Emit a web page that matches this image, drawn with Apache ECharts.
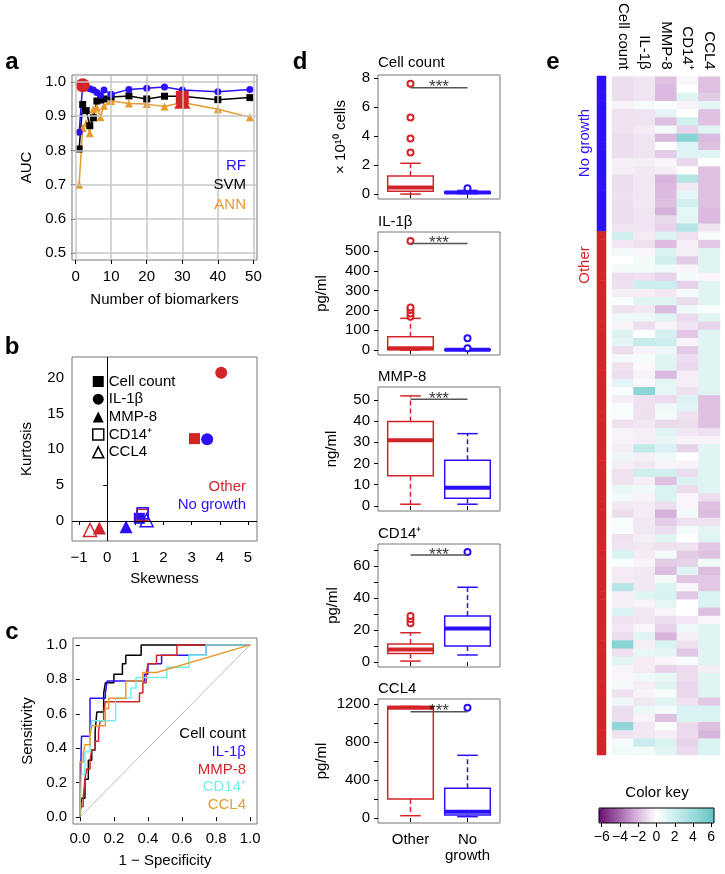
<!DOCTYPE html>
<html><head><meta charset="utf-8">
<script src="https://cdn.jsdelivr.net/npm/echarts@6/dist/echarts.min.js"></script>
<style>html,body{margin:0;padding:0;background:#fff}#c{width:725px;height:874px}</style>
</head><body><div id="c"></div>
<script>
// ---------- DATA ----------
// panel a
const biomarkerCounts = [1,2,3,4,5,6,7,8,10,15,20,25,30,40,49];
const aucRF  = [0.853,0.99,0.983,0.98,0.976,0.969,0.961,0.976,0.964,0.978,0.981,0.985,0.976,0.971,0.978];
const aucSVM = [0.804,0.934,0.916,0.872,0.895,0.944,0.947,0.95,0.956,0.959,0.95,0.958,0.958,0.948,0.954];
const aucANN = [0.70,0.865,0.879,0.85,0.92,0.925,0.897,0.93,0.944,0.937,0.935,0.928,0.94,0.92,0.897];
const bestRF = [2, 0.99], bestSVM = [30, 0.955], bestANN = [30, 0.945];
const aXTicks = [0,10,20,30,40,50];
const aYTicks = [0.5,0.6,0.7,0.8,0.9,1.0];
// panel b (order: Cell count, IL-1β, MMP-8, CD14+, CCL4)
const bMarkers = ['Cell count','IL-1β','MMP-8','CD14⁺','CCL4'];
const skewOther = [3.1, 4.05, -0.28, 1.25, -0.61];
const kurtOther = [11.5, 20.7, -1.0, 0.85, -1.26];
const skewNG = [1.14, 3.55, 0.67, 1.26, 1.4];
const kurtNG = [0.37, 11.4, -0.8, 1.07, 0.1];
const bXTicks = [-1,0,1,2,3,4,5];
const bYTicks = [0,5,10,15,20];
// panel c ROC curves [1-specificity, sensitivity]
const rocCellCount = [[0,0],[0.01,0],[0.01,0.11],[0.03,0.11],[0.03,0.22],[0.05,0.22],[0.05,0.33],[0.07,0.33],[0.07,0.39],[0.09,0.39],[0.09,0.5],[0.1,0.5],[0.1,0.61],[0.14,0.61],[0.14,0.72],[0.15,0.72],[0.15,0.78],[0.2,0.78],[0.2,0.83],[0.25,0.83],[0.25,0.89],[0.27,0.89],[0.27,0.94],[0.36,0.94],[0.36,1],[1,1]];
const rocIL1b = [[0,0],[0,0.06],[0.01,0.06],[0.01,0.47],[0.06,0.47],[0.06,0.69],[0.15,0.69],[0.15,0.72],[0.16,0.72],[0.16,0.79],[0.28,0.79],[0.38,0.79],[0.38,0.83],[0.4,0.83],[0.4,0.89],[0.48,0.89],[0.48,0.94],[0.74,0.94],[0.74,1],[1,1]];
const rocMMP8 = [[0,0],[0,0.06],[0.02,0.06],[0.02,0.11],[0.03,0.11],[0.03,0.22],[0.04,0.22],[0.04,0.28],[0.06,0.28],[0.06,0.33],[0.07,0.33],[0.07,0.39],[0.09,0.39],[0.09,0.44],[0.11,0.44],[0.11,0.5],[0.12,0.5],[0.12,0.56],[0.14,0.56],[0.14,0.61],[0.15,0.61],[0.15,0.67],[0.35,0.67],[0.35,0.72],[0.37,0.72],[0.37,0.78],[0.39,0.78],[0.39,0.83],[0.4,0.83],[0.4,0.89],[0.45,0.89],[0.45,0.94],[0.57,0.94],[0.57,1],[1,1]];
const rocCD14 = [[0,0],[0.01,0],[0.01,0.25],[0.03,0.25],[0.03,0.38],[0.06,0.38],[0.06,0.47],[0.07,0.47],[0.07,0.56],[0.21,0.56],[0.21,0.69],[0.3,0.69],[0.3,0.75],[0.33,0.75],[0.33,0.81],[0.51,0.81],[0.51,0.87],[0.64,0.87],[0.64,0.94],[0.74,0.94],[0.74,1],[1,1]];
const rocCCL4 = [[0,0],[0,0.32],[0.02,0.32],[0.02,0.37],[0.03,0.37],[0.03,0.42],[0.06,0.42],[0.06,0.47],[0.07,0.47],[0.07,0.53],[0.15,0.53],[0.15,0.63],[0.17,0.63],[0.17,0.69],[0.27,0.69],[0.27,0.79],[0.37,0.79],[0.37,0.84],[0.45,0.84],[1,1]];
const cTicks = [0,0.2,0.4,0.6,0.8,1.0];
// panel d boxplots [min, Q1, median, Q3, max]
const dTitles = ['Cell count','IL-1β','MMP-8','CD14⁺','CCL4'];
const dUnits = ['× 10¹⁰ cells','pg/ml','ng/ml','pg/ml','pg/ml'];
const dGroups = ['Other','No\ngrowth'];
const dOtherBox = [[0,0.2,0.46,1.24,2.12],[0,1,8.5,67,160],[0.8,14.2,31,39.8,51.9],[0.6,5.4,7.9,11.2,18.3],[24,200,1160,1175,1175]];
const dNGBox = [[0.03,0.06,0.1,0.15,0.25],[0,0,1,2,5],[0.8,3.6,8.6,21.5,34.1],[4.4,10,21,28.7,46.7],[14,30,66,312,660]];
const dOtherOut = [[2.87,3.83,5.28,7.6],[168,185,202,215,550],[],[24.2,26.9,28.7],[]];
const dNGOut = [[0.4],[9,59],[],[68.7],[1161]];
const dSig = [7.33,538,50.3,66.9,1119];
const dYTicks = [[0,2,4,6,8],[0,100,200,300,400,500],[0,10,20,30,40,50],[0,10,20,30,40,50,60,70],[0,200,400,600,800,1000,1200]];
const dYLabels = [[0,2,4,6,8],[0,100,200,300,400,500],[0,10,20,30,40,50],[0,20,40,60],[0,400,800,1200]];
// panel e heatmap rows [Cell count, IL-1β, MMP-8, CD14+, CCL4]
const heatCols = ['Cell count','IL-1β','MMP-8','CD14⁺','CCL4'];
const heatNoGrowth = [
[-1.0,-0.8,-1.8,-0.3,-1.8],[-1.0,-0.8,-2.0,0.0,-1.8],[-1.0,-0.8,-2.0,1.2,-1.5],[-0.4,0.4,0.1,-0.4,1.0],
[-0.9,-0.8,1.0,0.0,-1.8],[-0.9,-0.8,-1.8,1.8,-1.8],[-0.9,-0.6,0.5,-1.3,1.2],[-1.0,-0.8,-2.0,4.8,-2.0],
[-1.0,-0.8,0.0,1.3,-1.8],[-1.0,-0.8,-1.5,1.3,1.2],[-0.5,-0.5,-0.3,-1.2,0.0],[-0.5,-0.7,-0.5,0.0,-1.8],
[-1.0,-0.7,-2.1,3.0,-1.8],[-1.0,-0.7,-2.0,-0.7,-1.8],[-0.9,-0.7,-1.9,1.0,-1.8],[-1.0,-0.7,-1.8,1.8,-1.8],
[-1.0,-0.8,-2.2,1.0,-2.0],[-1.0,-0.8,-1.2,1.0,-2.0],[-0.8,-0.8,-1.3,3.0,-0.8]];
const heatOther = [
[1.8,-0.6,1.3,-0.9,0.3],[-0.7,-0.9,-1.9,-0.5,-1.6],[0.5,-0.3,1.5,-0.5,1.2],[0.0,0.5,1.8,-1.5,1.2],
[0.5,0.5,0.6,-0.3,1.2],[-1.0,-0.9,-1.3,0.4,-0.3],[-0.9,2.0,2.0,-1.3,1.2],[-0.5,-0.5,-0.7,0.5,1.2],
[0.2,1.2,1.2,-1.0,1.2],[-0.9,-0.7,-2.0,0.6,0.3],[0.6,0.7,1.2,-1.1,1.2],[-0.4,-1.0,-0.4,-0.8,-1.3],
[1.4,0.0,1.7,-1.6,1.2],[1.0,2.3,2.0,-0.4,1.2],[-1.0,-0.4,0.7,-1.5,1.2],[0.4,0.4,1.2,-1.0,1.2],
[-0.9,-0.2,1.2,-1.1,1.2],[-1.0,-0.4,-2.0,-0.5,1.2],[1.0,-0.2,1.0,-0.5,1.2],[0.2,4.6,1.0,-0.9,1.2],
[-0.5,-0.9,-1.1,1.4,-1.8],[0.3,-0.9,0.7,1.2,-1.8],[0.2,-0.9,0.4,-0.9,-1.8],[-0.9,-0.7,-1.1,-1.0,-1.8],
[-0.4,-0.5,1.2,-0.7,-0.9],[-0.4,-0.5,0.9,-0.4,-0.4],[-0.5,2.5,1.4,-1.3,1.2],[0.7,-0.5,0.6,0.0,1.2],
[-0.5,-0.7,-0.4,-0.4,1.2],[-0.9,1.8,1.8,-1.0,1.2],[-0.9,-0.5,-1.8,1.5,1.2],[0.8,0.6,1.5,-1.0,1.2],
[0.5,-0.4,1.5,-0.3,-1.0],[-0.7,-0.6,-1.0,-0.3,-1.8],[-1.0,-0.6,-2.2,0.5,-1.9],[0.3,-0.7,-1.5,-0.9,-0.9],
[0.3,-0.7,-1.0,0.5,1.0],[-0.9,-0.5,1.2,0.0,1.2],[-0.8,-0.7,-0.9,-0.8,-1.6],[1.5,-0.6,0.5,-1.5,-1.8],
[0.2,-0.4,-1.5,-1.3,0.5],[-0.6,-0.7,-1.9,1.2,-1.9],[-0.6,-0.7,0.5,-1.6,-1.6],[3.0,-0.7,1.5,-0.3,-1.6],
[-0.5,1.2,1.5,-1.6,1.5],[-0.5,-0.4,1.0,0.0,1.5],[1.5,-0.7,-0.3,0.0,-1.8],[-0.9,-0.7,-1.0,-0.7,-0.3],
[-0.7,-0.3,-1.3,0.7,1.2],[-1.0,1.2,-2.1,-0.5,1.2],[4.8,-0.5,1.5,-0.9,1.2],[-0.9,0.8,1.0,-1.6,1.2],
[1.2,-0.6,-0.3,0.3,1.2],[-0.4,-0.6,-1.3,-1.0,-0.5],[-0.3,0.6,0.8,-1.0,1.2],[0.4,-0.5,1.2,-1.2,1.2],
[-0.9,-0.4,0.4,-1.2,1.2],[0.6,-0.7,1.2,-0.9,-1.6],[-1.0,0.8,0.4,1.5,1.5],[-1.0,-0.4,-1.8,1.5,1.5],
[4.5,-0.7,0.1,-1.1,-1.8],[-0.9,-0.7,-0.5,-1.1,-2.1],[0.4,2.2,1.5,-1.3,1.5],[0.6,0.5,1.2,-1.1,1.5]];
const keyTicks = [-6,-4,-2,0,2,4,6];

// ---------- STYLE ----------
const RED='#d3242a', BLUE='#2a10ff', ORANGE='#e79b2e', CYAN='#70eeee', BLACK='#000';
const FONT="'Liberation Sans', Arial, sans-serif";
const minus = v => (v<0 ? '\u2212'+Math.abs(v) : String(v));

function valAxis(gi, min, max, ticks, labels, opt) {
  opt = opt || {};
  return Object.assign({
    type:'value', gridIndex:gi, min, max,
    axisLine:{show:false},
    axisTick:{show:true, length:4, customValues:ticks, lineStyle:{color:'#000', width:1}},
    axisLabel:{show:labels!==null, customValues:labels||ticks, color:'#000', fontSize:15, fontFamily:FONT, margin:opt.margin||8, formatter:opt.fmt||minus},
    splitLine:{show:false}
  }, opt.extra||{});
}
const grids = [
  {left:72, top:75, width:185, height:185},
  {left:72, top:357, width:185, height:184},
  {left:73, top:638, width:184, height:186},
  {left:378, top:75, width:122, height:124},
  {left:378, top:232, width:122, height:123},
  {left:378, top:387, width:122, height:124},
  {left:378, top:544, width:122, height:123},
  {left:378, top:699, width:122, height:124},
  {left:612, top:76, width:108, height:679, show:false},
  {left:597, top:76, width:9, height:679, show:false},
  {left:599, top:808, width:115, height:15, show:true, borderColor:'#000', borderWidth:1, backgroundColor:'transparent', z:10}
];
grids.forEach((g,i)=>{ if(i<8){ g.show=true; g.borderColor='#777'; g.borderWidth=1; } });

const nameStyle = {fontSize:15,color:'#000',fontFamily:FONT};
const xAxes=[], yAxes=[];
// a
xAxes.push(valAxis(0,-1,51,aXTicks,aXTicks,{margin:9,extra:{name:'Number of biomarkers',nameLocation:'middle',nameGap:32,nameTextStyle:nameStyle}}));
yAxes.push(valAxis(0,0.48,1.02,aYTicks,aYTicks,{margin:6,fmt:v=>v.toFixed(1),extra:{name:'AUC',nameLocation:'middle',nameGap:38,nameRotate:90,nameTextStyle:nameStyle}}));
// b
xAxes.push(valAxis(1,-1.25,5.32,bXTicks,bXTicks,{margin:9,extra:{name:'Skewness',nameLocation:'middle',nameGap:30,nameTextStyle:nameStyle}}));
yAxes.push(valAxis(1,-2.8,22.9,bYTicks,bYTicks,{margin:8,extra:{name:'Kurtosis',nameLocation:'middle',nameGap:38,nameRotate:90,nameTextStyle:nameStyle}}));
// c
xAxes.push(valAxis(2,-0.04,1.04,cTicks,cTicks,{margin:7,fmt:v=>v.toFixed(1),extra:{name:'1 \u2212 Specificity',nameLocation:'middle',nameGap:29,nameTextStyle:nameStyle}}));
yAxes.push(valAxis(2,-0.04,1.04,cTicks,cTicks,{margin:6,fmt:v=>v.toFixed(1),extra:{name:'Sensitivity',nameLocation:'middle',nameGap:38,nameRotate:90,nameTextStyle:nameStyle}}));
// d
const dRange = [[-0.34,8.2],[-25,596],[-2.4,56.1],[-3.1,73.7],[-53,1253]];
const dNameGap = [30,49,39,38,49];
for(let k=0;k<5;k++){
  const last = k===4;
  xAxes.push(valAxis(3+k,0.43,2.57,[1,2],last?[1,2]:null,{margin:9,extra:{axisLabel:{show:last,customValues:[1,2],color:'#000',fontSize:15,fontFamily:FONT,margin:9,lineHeight:16,verticalAlign:'top',formatter:v=>dGroups[v-1]}}}));
  yAxes.push(valAxis(3+k,dRange[k][0],dRange[k][1],dYTicks[k],dYLabels[k],{margin:8,extra:{name:dUnits[k],nameLocation:'middle',nameGap:dNameGap[k],nameRotate:90,nameTextStyle:nameStyle}}));
}
// e heatmap
const rowIds = heatNoGrowth.concat(heatOther).map((r,i)=>String(i));
xAxes.push({type:'category', gridIndex:8, data:heatCols, position:'top', axisLine:{show:false}, axisTick:{show:false}, splitLine:{show:false},
  axisLabel:{rotate:90, interval:0, color:'#000', fontSize:15, fontFamily:FONT, margin:7}});
yAxes.push({type:'category', gridIndex:8, data:rowIds, inverse:true, show:false});
xAxes.push({type:'category', gridIndex:9, data:['g'], show:false});
yAxes.push({type:'category', gridIndex:9, data:rowIds, inverse:true, show:false});
// color key axis
xAxes.push(valAxis(10,-6.3,6.3,keyTicks,keyTicks,{margin:7,extra:{axisLabel:{customValues:keyTicks,color:'#000',fontSize:14,fontFamily:FONT,margin:7,formatter:minus}}}));
yAxes.push({type:'value', gridIndex:10, min:0, max:1, show:false});

// ---------- SERIES ----------
const series=[];
// a gridlines (anchored on an invisible point)
series.push({type:'line', xAxisIndex:0, yAxisIndex:0, data:[[aXTicks[0],aYTicks[0]]], symbol:'none', lineStyle:{opacity:0}, z:1, silent:true,
  markLine:{silent:true, animation:false, symbol:['none','none'], label:{show:false}, emphasis:{disabled:true},
    lineStyle:{color:'#c6c6c6', width:1.5, type:'solid', opacity:1},
    data: aXTicks.map(v=>({xAxis:v})).concat(aYTicks.map(v=>({yAxis:v})))}});
[['ANN',aucANN,ORANGE,'triangle',8],['SVM',aucSVM,BLACK,'rect',7],['RF',aucRF,BLUE,'circle',7]].forEach(([n,vals,c,sym,sz])=>{
  series.push({type:'line', name:n, xAxisIndex:0, yAxisIndex:0, data:biomarkerCounts.map((x,i)=>[x,vals[i]]),
    symbol:sym, symbolSize:sz, showAllSymbol:true, itemStyle:{color:c, opacity:1}, lineStyle:{color:c,width:1.5}, z:3});
});
[[bestRF,'circle',14],[bestSVM,'rect',13],[bestANN,'triangle',16]].forEach(([p,sym,sz])=>{
  series.push({type:'scatter', xAxisIndex:0, yAxisIndex:0, data:[p], symbol:sym, symbolSize:sz, itemStyle:{color:RED, opacity:1}, z:4});
});
// b reference lines
series.push({type:'line', xAxisIndex:1, yAxisIndex:1, data:[[0,0]], symbol:'none', lineStyle:{opacity:0}, z:1, silent:true,
  markLine:{silent:true, animation:false, symbol:['none','none'], label:{show:false}, emphasis:{disabled:true},
    lineStyle:{color:'#000', width:1, type:'solid', opacity:1}, data:[{xAxis:0},{yAxis:0}]}});
const bSymbols=['rect','circle','triangle','rect','triangle'], bFilled=[true,true,true,false,false], bSize=[11,12,13,11,13];
const sty=(c,f)=> f?{color:c, opacity:1}:{color:'rgba(0,0,0,0)', borderColor:c, borderWidth:1.5, opacity:1};
bMarkers.forEach((n,i)=>{
  series.push({type:'scatter', name:n, xAxisIndex:1, yAxisIndex:1, symbol:bSymbols[i], symbolSize:bSize[i], z:3, itemStyle:{opacity:1},
    data:[{value:[skewOther[i],kurtOther[i]], itemStyle:sty(RED,bFilled[i])},{value:[skewNG[i],kurtNG[i]], itemStyle:sty(BLUE,bFilled[i])}]});
});
// c
series.push({type:'line', xAxisIndex:2, yAxisIndex:2, data:[[0,0],[1,1]], showSymbol:false, lineStyle:{color:'#aaa', width:0.8}, z:1});
[[rocCellCount,BLACK],[rocIL1b,BLUE],[rocMMP8,RED],[rocCD14,CYAN],[rocCCL4,ORANGE]].forEach(([d,c],i)=>{
  series.push({type:'line', name:'roc'+i, xAxisIndex:2, yAxisIndex:2, data:d, showSymbol:false, lineStyle:{color:c,width:1.5}, itemStyle:{color:c}, z:2+i});
});
// d
function boxRenderer(c){
  return function(params, api){
    const x=api.value(0);
    const lo=api.coord([x,api.value(1)]), q1=api.coord([x,api.value(2)]), md=api.coord([x,api.value(3)]), q3=api.coord([x,api.value(4)]), hi=api.coord([x,api.value(5)]);
    const half=api.size([0.4,0])[0], cap=half*0.45, cx=md[0];
    const ln=(x1,y1,x2,y2,w,dash)=>({type:'line', shape:{x1,y1,x2,y2}, style:{stroke:c, lineWidth:w, lineDash:dash||null}});
    return {type:'group', children:[
      ln(cx,q3[1],cx,hi[1],1.5,[5,3]), ln(cx,q1[1],cx,lo[1],1.5,[5,3]),
      ln(cx-cap,hi[1],cx+cap,hi[1],1.5), ln(cx-cap,lo[1],cx+cap,lo[1],1.5),
      {type:'rect', shape:{x:cx-half, y:q3[1], width:2*half, height:q1[1]-q3[1]}, style:{fill:'#fff', stroke:c, lineWidth:1.5}},
      ln(cx-half,md[1],cx+half,md[1],4)
    ]};
  };
}
for(let k=0;k<5;k++){
  const xi=3+k;
  series.push({type:'custom', xAxisIndex:xi, yAxisIndex:xi, renderItem:boxRenderer(RED), data:[[1].concat(dOtherBox[k])], z:2});
  series.push({type:'custom', xAxisIndex:xi, yAxisIndex:xi, renderItem:boxRenderer(BLUE), data:[[2].concat(dNGBox[k])], z:2});
  series.push({type:'scatter', xAxisIndex:xi, yAxisIndex:xi, symbol:'emptyCircle', symbolSize:6, itemStyle:{color:RED, borderWidth:1.5, opacity:1}, data:dOtherOut[k].map(v=>[1,v]), z:3});
  series.push({type:'scatter', xAxisIndex:xi, yAxisIndex:xi, symbol:'emptyCircle', symbolSize:6, itemStyle:{color:BLUE, borderWidth:1.5, opacity:1}, data:dNGOut[k].map(v=>[2,v]), z:3});
  series.push({type:'line', xAxisIndex:xi, yAxisIndex:xi, data:[[1,dSig[k]],[2,dSig[k]]], showSymbol:false, lineStyle:{color:'#555',width:1.5}, z:4});
  series.push({type:'scatter', xAxisIndex:xi, yAxisIndex:xi, data:[[1.5,dSig[k]]], symbolSize:1, itemStyle:{color:'rgba(0,0,0,0)'}, z:5,
    label:{show:true, formatter:'***', position:'inside', fontSize:17, color:'#000', fontFamily:FONT}});
}
// e
const heatIdx = series.length;
const heatData=[];
heatNoGrowth.concat(heatOther).forEach((row,r)=>row.forEach((v,c)=>heatData.push([c,r,v])));
series.push({type:'heatmap', xAxisIndex:8, yAxisIndex:8, data:heatData, emphasis:{disabled:true}, itemStyle:{borderWidth:0}});
const groupIdx = series.length;
series.push({type:'heatmap', xAxisIndex:9, yAxisIndex:9, emphasis:{disabled:true},
  data: rowIds.map((id,r)=>[0, r, r<heatNoGrowth.length?0:1])});

// ---------- TEXT ----------
const T=(text,x,y,s,extra)=>Object.assign({type:'text', x, y, silent:true, z:20,
  style:Object.assign({text, fill:'#000', fontSize:15, fontFamily:FONT, align:'left', verticalAlign:'middle'}, s||{})}, extra||{});
const L=(t,x,y)=>T(t,x,y,{fontSize:24,fontWeight:'bold',align:'center'});
const graphics=[
  L('a',12,62), L('b',12,347), L('c',12,632), L('d',300,62), L('e',553,62),
  T('RF',246,166,{fill:BLUE,align:'right'}), T('SVM',246,185,{align:'right'}), T('ANN',246,205,{fill:ORANGE,align:'right'}),
  T('Other',246,487,{fill:RED,align:'right'}), T('No growth',246,505,{fill:BLUE,align:'right'}),
  T('Cell count',246,734,{align:'right'}), T('IL-1β',246,752,{fill:BLUE,align:'right'}), T('MMP-8',246,770,{fill:RED,align:'right'}),
  T('CD14⁺',246,787,{fill:CYAN,align:'right'}), T('CCL4',246,805,{fill:ORANGE,align:'right'}),
  T('No growth',585,143,{fill:BLUE,align:'center'},{rotation:Math.PI/2}),
  T('Other',585,265,{fill:RED,align:'center'},{rotation:Math.PI/2}),
  T('Color key',657,793,{align:'center'})
];
const dTitleY=[63,222,377,534,689];
dTitles.forEach((t,k)=>graphics.push(T(t,378,dTitleY[k])));

const option={
  animation:false,
  textStyle:{fontFamily:FONT},
  grid:grids, xAxis:xAxes, yAxis:yAxes, series,
  legend:{left:90, top:372, orient:'vertical', itemWidth:11, itemHeight:11, itemGap:2.7, selectedMode:false,
    backgroundColor:'#fff', padding:[2,4,2,2], textStyle:{fontSize:15, color:'#000', fontFamily:FONT},
    data:bMarkers.map((n,i)=>({name:n, icon:bSymbols[i],
      itemStyle: bFilled[i]?{color:'#000', borderWidth:0, opacity:1}:{color:'#fff', borderColor:'#000', borderWidth:1.5, opacity:1}}))},
  visualMap:[
    {type:'continuous', seriesIndex:heatIdx, dimension:2, min:-6.3, max:6.3, orient:'horizontal', left:599, top:808,
     itemWidth:15, itemHeight:115, padding:0, calculable:false, hoverLink:false, realtime:false, text:null,
     inRange:{color:['#6a0a6e','#853a8c','#a060a8','#bc8cc2','#d8b6dc','#ecdcee','#ffffff','#e4f5f5','#cbeded','#b2e4e4','#98dada','#7dcfcf','#62c4c4']}},
    {type:'piecewise', show:false, seriesIndex:groupIdx, dimension:2, pieces:[{value:0,color:BLUE},{value:1,color:RED}]}
  ],
  graphic:graphics
};
const chart=echarts.init(document.getElementById('c'),null,{renderer:'canvas'});
chart.setOption(option);
</script></body></html>
